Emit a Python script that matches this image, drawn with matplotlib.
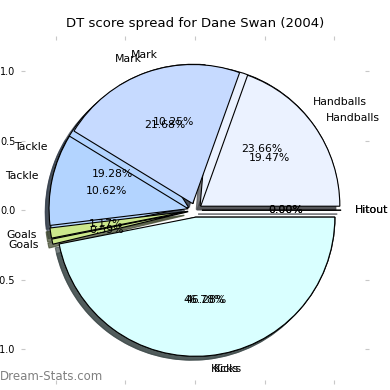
import matplotlib
matplotlib.use("Agg")
import matplotlib.pyplot as plt

labels = ['Handballs', 'Mark', 'Tackle', 'Goals', 'Kicks', 'Hitout']
colours = ['#ebf2ff', '#c6daff', '#b3d4ff', '#cce88c', '#d9ffff', '#eef4ff']

# earlier chart left underneath, then this one drawn on top
under_vals = [23.66, 10.25, 19.28, 0.59, 46.28, 0.0]
top_vals = [19.47, 21.68, 10.62, 1.17, 46.78, 0.0]

fig = plt.figure(figsize=(3.9, 3.9), dpi=100)
ax = fig.add_axes([0.054, 0.015, 0.892, 0.892])

def pct(vals):
    total = sum(vals)
    return lambda p: '%.2f%%' % (p * total / 100.0)

for vals in (under_vals, top_vals):
    ax.pie(vals, explode=[0.05] * len(vals), labels=labels, colors=colours,
           autopct=pct(vals),
           shadow={'ox': -0.02, 'oy': -0.02, 'alpha': 0.7},
           startangle=0,
           wedgeprops=dict(edgecolor='black', linewidth=0.8),
           textprops=dict(fontsize=7.8))

ax.set_xlim(-1.25, 1.25)
ax.set_ylim(-1.25, 1.25)
ax.set_xticks([-1.0, -0.5, 0.0, 0.5, 1.0])
ax.set_yticks([-1.0, -0.5, 0.0, 0.5, 1.0])
ax.tick_params(direction='in', length=3, color='#c8c8c8', labelsize=7,
               top=True, right=True, pad=4)
ax.set_frame_on(False)
ax.set_title('DT score spread for Dane Swan (2004)', fontsize=9.5, pad=7)

fig.text(0.0, 0.025, 'Dream-Stats.com', fontsize=8.5, color='#808080')

fig.savefig('out.png', dpi=100)
